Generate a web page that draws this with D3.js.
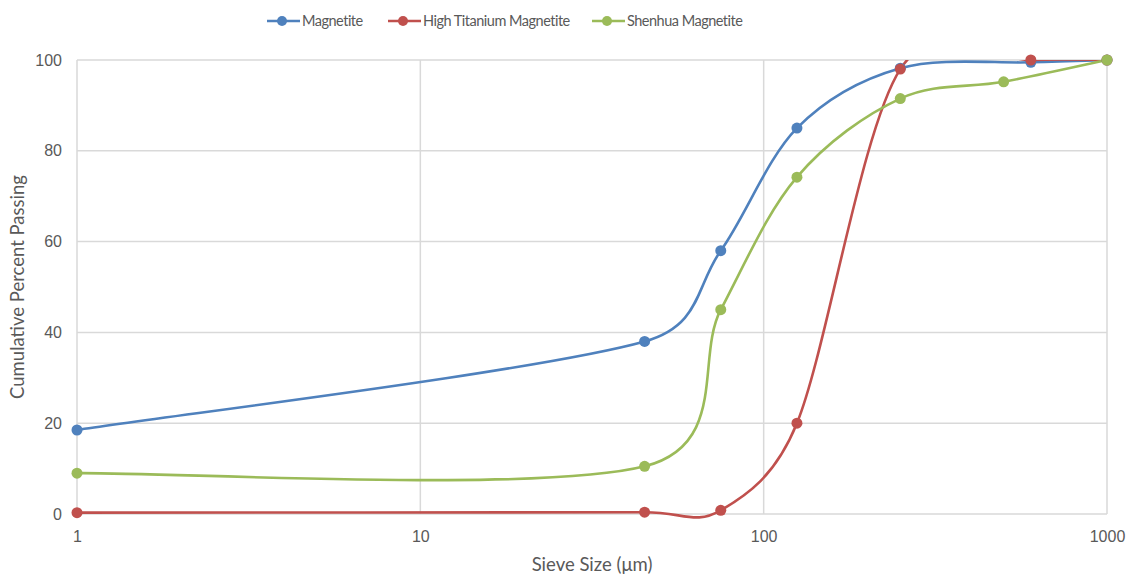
<!DOCTYPE html>
<html>
<head>
<meta charset="utf-8">
<script src="https://cdn.jsdelivr.net/npm/d3@7"></script>
<style>
  html, body { margin: 0; padding: 0; background: #fff; }
  svg { display: block; font-family: Lato, "Open Sans", "Liberation Sans", sans-serif; }
</style>
</head>
<body>
<svg id="chart" width="1127" height="574"></svg>
<script>
// Sieve sizes (µm) and cumulative percent passing for each sample
const magnetiteSizes = [1, 45, 75, 125, 250, 600, 1000];
const magnetiteValues = [18.5, 38, 58, 85, 98.2, 99.5, 100];

const highTiSizes = [1, 45, 75, 125, 250, 600, 1000];
const highTiValues = [0.3, 0.4, 0.8, 20, 98, 100, 100];

const shenhuaSizes = [1, 45, 75, 125, 250, 500, 1000];
const shenhuaValues = [9, 10.5, 45, 74.2, 91.5, 95.2, 100];

const seriesNames = ["Magnetite", "High Titanium Magnetite", "Shenhua Magnetite"];
const seriesColors = ["#4F81BD", "#C0504D", "#9BBB59"];

const xTicks = [1, 10, 100, 1000];
const yTicks = [0, 20, 40, 60, 80, 100];

const series = [
  { name: seriesNames[0], color: seriesColors[0], pts: magnetiteSizes.map((s, i) => [s, magnetiteValues[i]]) },
  { name: seriesNames[1], color: seriesColors[1], pts: highTiSizes.map((s, i) => [s, highTiValues[i]]) },
  { name: seriesNames[2], color: seriesColors[2], pts: shenhuaSizes.map((s, i) => [s, shenhuaValues[i]]) }
];

const svg = d3.select("#chart");
const margin = { left: 77, right: 20, top: 60, bottom: 60 };
const W = 1127, H = 574;
const x = d3.scaleLog().domain([1, 1000]).range([margin.left, W - margin.right]);
const y = d3.scaleLinear().domain([0, 100]).range([H - margin.bottom, margin.top]);

const textColor = "#595959";
const gridColor = "#D9D9D9";

// Smoothed line: cubic Bézier segments with Catmull-Rom style handles
// ((next - prev) / 6), each handle capped at half the segment length.
function smoothCurve(context) {
  let pts = [];
  return {
    areaStart() {}, areaEnd() {},
    lineStart() { pts = []; },
    point(px, py) { pts.push([px, py]); },
    lineEnd() {
      const n = pts.length;
      if (!n) return;
      context.moveTo(pts[0][0], pts[0][1]);
      const handle = (a, b, maxLen) => {
        let dx = (b[0] - a[0]) / 6, dy = (b[1] - a[1]) / 6;
        const len = Math.hypot(dx, dy);
        if (len > maxLen && len > 0) { dx *= maxLen / len; dy *= maxLen / len; }
        return [dx, dy];
      };
      for (let i = 0; i < n - 1; i++) {
        const p0 = pts[Math.max(i - 1, 0)], p1 = pts[i], p2 = pts[i + 1], p3 = pts[Math.min(i + 2, n - 1)];
        const half = Math.hypot(p2[0] - p1[0], p2[1] - p1[1]) / 2;
        const h1 = handle(p0, p2, half), h2 = handle(p1, p3, half);
        context.bezierCurveTo(p1[0] + h1[0], p1[1] + h1[1], p2[0] - h2[0], p2[1] - h2[1], p2[0], p2[1]);
      }
    }
  };
}

// gridlines
svg.append("g").selectAll("line").data(yTicks).join("line")
  .attr("x1", x(1)).attr("x2", x(1000))
  .attr("y1", d => y(d)).attr("y2", d => y(d))
  .attr("stroke", gridColor).attr("stroke-width", 1.5);
svg.append("g").selectAll("line").data(xTicks).join("line")
  .attr("x1", d => x(d)).attr("x2", d => x(d))
  .attr("y1", y(0)).attr("y2", y(100))
  .attr("stroke", gridColor).attr("stroke-width", 1.5);

// axis labels (axis lines come from the grid)
const xAxis = svg.append("g")
  .attr("transform", `translate(0,${y(0)})`)
  .call(d3.axisBottom(x).tickValues(xTicks).tickFormat(d3.format("d")).tickSize(0).tickPadding(17));
xAxis.select(".domain").remove();
xAxis.selectAll("text").attr("fill", textColor).style("font-size", "16px").style("font-family", "inherit");

const yAxis = svg.append("g")
  .attr("transform", `translate(${x(1)},0)`)
  .call(d3.axisLeft(y).tickValues(yTicks).tickSize(0).tickPadding(15));
yAxis.select(".domain").remove();
yAxis.selectAll("text").attr("fill", textColor).style("font-size", "16px").style("font-family", "inherit");

// axis titles
svg.append("text")
  .attr("x", (x(1) + x(1000)) / 2).attr("y", 571)
  .attr("text-anchor", "middle").attr("fill", textColor).style("font-size", "18.5px")
  .text("Sieve Size (μm)");
svg.append("text")
  .attr("transform", `translate(24,${(y(0) + y(100)) / 2}) rotate(-90)`)
  .attr("text-anchor", "middle").attr("fill", textColor).style("font-size", "18.5px")
  .text("Cumulative Percent Passing");

// clip for the smooth lines
svg.append("clipPath").attr("id", "plotClip")
  .append("rect").attr("x", x(1) - 10).attr("y", y(100)).attr("width", x(1000) - x(1) + 20).attr("height", y(0) - y(100) + 10);

const line = d3.line()
  .x(d => x(d[0])).y(d => y(d[1]))
  .curve(smoothCurve);

const plot = svg.append("g");
series.forEach(s => {
  plot.append("path")
    .attr("d", line(s.pts))
    .attr("fill", "none")
    .attr("stroke", s.color)
    .attr("stroke-width", 2.6)
    .attr("stroke-linecap", "round")
    .attr("clip-path", "url(#plotClip)");
});
series.forEach(s => {
  plot.append("g").selectAll("circle").data(s.pts).join("circle")
    .attr("cx", d => x(d[0])).attr("cy", d => y(d[1]))
    .attr("r", 5.5).attr("fill", s.color);
});

// legend
const legendItems = [
  { name: seriesNames[0], color: seriesColors[0], x0: 267 },
  { name: seriesNames[1], color: seriesColors[1], x0: 388 },
  { name: seriesNames[2], color: seriesColors[2], x0: 592 }
];
const lg = svg.append("g");
legendItems.forEach(it => {
  lg.append("line").attr("x1", it.x0).attr("x2", it.x0 + 33).attr("y1", 21).attr("y2", 21)
    .attr("stroke", it.color).attr("stroke-width", 2.6);
  lg.append("circle").attr("cx", it.x0 + 15).attr("cy", 21).attr("r", 5).attr("fill", it.color);
  lg.append("text").attr("x", it.x0 + 35).attr("y", 26).attr("fill", textColor)
    .style("font-size", "14.5px").style("letter-spacing", "-0.5px").text(it.name);
});
</script>
</body>
</html>
